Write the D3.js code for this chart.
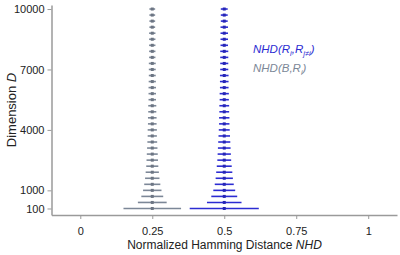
<!DOCTYPE html>
<html>
<head>
<meta charset="utf-8">
<script src="https://cdn.jsdelivr.net/npm/d3@7"></script>
<style>
  body { margin: 0; background: #fff; }
  text { font-family: Arial, "Liberation Sans", sans-serif; }
</style>
</head>
<body>
<div id="chart"></div>
<script>
// dimensions D (100 to 10000, every 300)
const dims = [100, 400, 700, 1000, 1300, 1600, 1900, 2200, 2500, 2800, 3100, 3400,
  3700, 4000, 4300, 4600, 4900, 5200, 5500, 5800, 6100, 6400, 6700, 7000, 7300,
  7600, 7900, 8200, 8500, 8800, 9100, 9400, 9700, 10000];

// NHD(B,R_i) mean and half spread (gray)
const grayMean = [0.25, 0.25, 0.25, 0.25, 0.25, 0.25, 0.25, 0.25, 0.25, 0.25, 0.25, 0.25,
  0.25, 0.25, 0.25, 0.25, 0.25, 0.25, 0.25, 0.25, 0.25, 0.25, 0.25, 0.25, 0.25,
  0.25, 0.25, 0.25, 0.25, 0.25, 0.25, 0.25, 0.25, 0.25];
const grayErr = [0.100, 0.050, 0.038, 0.032, 0.028, 0.025, 0.023, 0.021, 0.020, 0.019,
  0.018, 0.017, 0.016, 0.016, 0.015, 0.015, 0.014, 0.014, 0.013, 0.013, 0.013, 0.0125,
  0.012, 0.012, 0.012, 0.011, 0.011, 0.011, 0.011, 0.011, 0.010, 0.010, 0.010, 0.010];

// NHD(R_i,R_j) mean and half spread (blue)
const blueMean = [0.5, 0.5, 0.5, 0.5, 0.5, 0.5, 0.5, 0.5, 0.5, 0.5, 0.5, 0.5,
  0.5, 0.5, 0.5, 0.5, 0.5, 0.5, 0.5, 0.5, 0.5, 0.5, 0.5, 0.5, 0.5,
  0.5, 0.5, 0.5, 0.5, 0.5, 0.5, 0.5, 0.5, 0.5];
const blueErr = [0.120, 0.060, 0.045, 0.038, 0.033, 0.030, 0.028, 0.026, 0.024, 0.023,
  0.022, 0.021, 0.020, 0.019, 0.018, 0.018, 0.017, 0.017, 0.016, 0.016, 0.015, 0.015,
  0.015, 0.014, 0.014, 0.014, 0.014, 0.013, 0.013, 0.013, 0.013, 0.012, 0.012, 0.012];

const xTicks = [0, 0.25, 0.5, 0.75, 1];
const yTicks = [100, 1000, 4000, 7000, 10000];

const GRAY = '#7c8797';
const BLUE = '#2c2cd2';
const AXIS = '#9a9a9a';

const width = 400, height = 255;

const svg = d3.select('#chart').append('svg')
    .attr('width', width)
    .attr('height', height);

const x = d3.scaleLinear().domain([-0.1, 1.1]).range([51.5, 397]);
const y = d3.scaleLinear().domain([-223, 10200]).range([215, 5]);

// axes
const xAxis = d3.axisBottom(x)
    .tickValues(xTicks)
    .tickFormat(d3.format('~g'))
    .tickSize(4)
    .tickSizeOuter(0)
    .tickPadding(8);
const yAxis = d3.axisLeft(y)
    .tickValues(yTicks)
    .tickFormat(d => d)
    .tickSize(4)
    .tickSizeOuter(0)
    .tickPadding(3);

const xG = svg.append('g')
    .attr('transform', 'translate(0,215)')
    .call(xAxis);
const yG = svg.append('g')
    .attr('transform', 'translate(51.5,0)')
    .call(yAxis);

[xG, yG].forEach(g => {
  g.select('.domain').attr('stroke', AXIS).attr('stroke-width', 1.5);
  g.selectAll('.tick line').attr('stroke', AXIS).attr('stroke-width', 1);
  g.selectAll('.tick text')
      .attr('fill', '#222')
      .style('font-size', '11px')
      .style('font-family', 'Arial, "Liberation Sans", sans-serif');
});

// build series rows
const series = [
  { color: BLUE, rows: dims.map((d, i) => ({ d, m: blueMean[i], e: blueErr[i] })) },
  { color: GRAY, rows: dims.map((d, i) => ({ d, m: grayMean[i], e: grayErr[i] })) },
];

series.forEach(s => {
  const g = svg.append('g');
  g.selectAll('line')
      .data(s.rows)
      .join('line')
      .attr('x1', r => x(r.m - r.e))
      .attr('x2', r => x(r.m + r.e))
      .attr('y1', r => y(r.d))
      .attr('y2', r => y(r.d))
      .attr('stroke', s.color)
      .attr('stroke-width', 1.6);
  g.selectAll('rect')
      .data(s.rows)
      .join('rect')
      .attr('x', r => x(r.m) - 1.5)
      .attr('y', r => y(r.d) - 1.5)
      .attr('width', 3)
      .attr('height', 3)
      .attr('fill', d3.color(s.color).darker(0.4));
});

// axis titles
const xt = svg.append('text')
    .attr('x', 224.5)
    .attr('y', 249)
    .attr('text-anchor', 'middle')
    .attr('fill', '#222')
    .style('font-size', '12px');
xt.append('tspan').text('Normalized Hamming Distance ');
xt.append('tspan').attr('font-style', 'italic').text('NHD');

const yt = svg.append('text')
    .attr('transform', 'translate(16,110) rotate(-90)')
    .attr('text-anchor', 'middle')
    .attr('fill', '#222')
    .style('font-size', '13px');
yt.append('tspan').text('Dimension ');
yt.append('tspan').attr('font-style', 'italic').text('D');

// legend
const lg1 = svg.append('text')
    .attr('x', 253)
    .attr('y', 53)
    .attr('fill', BLUE)
    .attr('font-style', 'italic')
    .style('font-size', '11.5px');
lg1.append('tspan').text('NHD(R');
lg1.append('tspan').attr('dy', 3).style('font-size', '7.5px').text('i');
lg1.append('tspan').attr('dy', -3).text(',R');
lg1.append('tspan').attr('dy', 3).style('font-size', '7.5px').text('j≠i');
lg1.append('tspan').attr('dy', -3).text(')');

const lg2 = svg.append('text')
    .attr('x', 253)
    .attr('y', 72)
    .attr('fill', GRAY)
    .attr('font-style', 'italic')
    .style('font-size', '11.5px');
lg2.append('tspan').text('NHD(B,R');
lg2.append('tspan').attr('dy', 3).style('font-size', '7.5px').text('i');
lg2.append('tspan').attr('dy', -3).text(')');
</script>
</body>
</html>
